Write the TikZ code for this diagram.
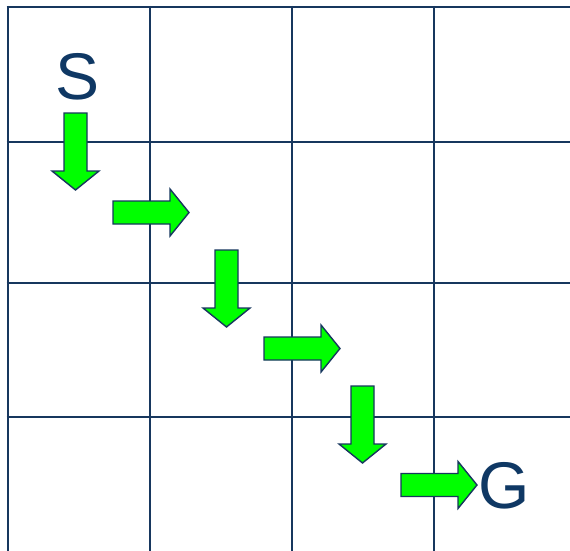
\documentclass[tikz,border=0pt]{standalone}
\usepackage{fontspec}
\setmainfont{Liberation Sans}
\definecolor{gridblue}{HTML}{17375E}
\definecolor{textblue}{HTML}{0F3864}
\definecolor{arrowgreen}{HTML}{00FF00}
\begin{document}
\begin{tikzpicture}[x=1pt,y=-1pt,
  gridline/.style={draw=gridblue,line width=2.6pt},
  greenarrow/.style={fill=arrowgreen,draw=gridblue,line width=1.4pt,line join=miter},
  letter/.style={text=textblue,font=\fontsize{66}{66}\selectfont,inner sep=0pt},
  pics/downarrow/.style={code={
    \path[greenarrow] (-11.5,0) -- (11.5,0) -- (11.5,58) -- (23.5,58) -- (0,77) -- (-23.5,58) -- (-11.5,58) -- cycle;}},
  pics/rightarrow/.style={code={
    \path[greenarrow] (0,-11.5) -- (57,-11.5) -- (57,-23.5) -- (76,0) -- (57,23.5) -- (57,11.5) -- (0,11.5) -- cycle;}}
]
\useasboundingbox (0,0) rectangle (570,551);
\fill[white] (0,0) rectangle (570,551);
% grid
\foreach \x in {8,150,292,434} \draw[gridline] (\x,6) -- (\x,560);
\foreach \y in {7,142,283,417} \draw[gridline] (6.7,\y) -- (580,\y);
% arrows
\pic at (75.5,113) {downarrow};
\pic at (113,212.5) {rightarrow};
\pic at (226.5,250) {downarrow};
\pic at (264,348.5) {rightarrow};
\pic at (362.5,386) {downarrow};
\pic at (401,485) {rightarrow};
% labels
\node[letter] (S) at (78,77) {S};
\node[letter] (G) at (504,486) {G};
\end{tikzpicture}
\end{document}
